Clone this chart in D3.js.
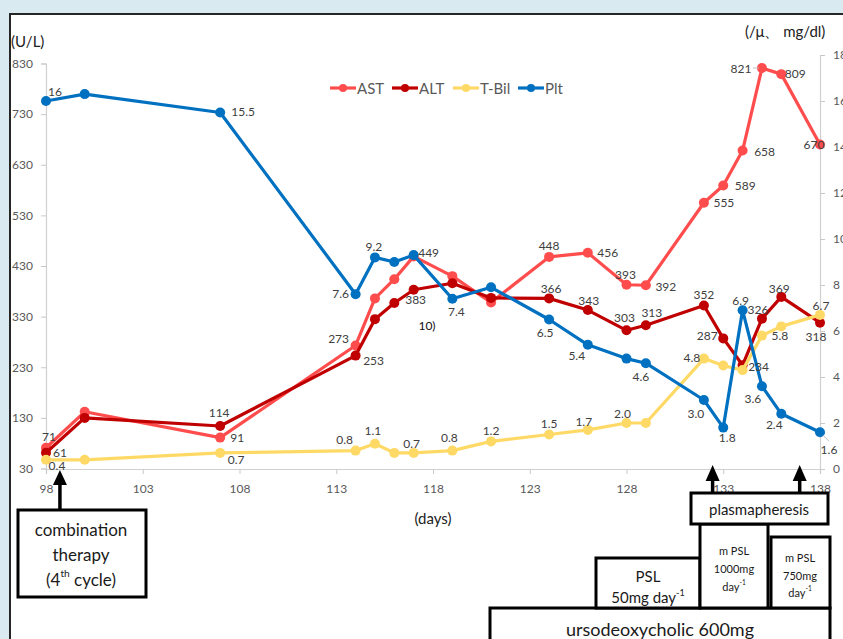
<!DOCTYPE html>
<html><head><meta charset="utf-8">
<script src="https://cdn.jsdelivr.net/npm/d3@7"></script>
<style>
html,body{margin:0;padding:0;background:#d9eaf1;}
svg{display:block;}
</style></head>
<body>
<svg id="c" width="843" height="639"></svg>
<script>
// ---------- data ----------
const days = [98,100,107,114,115,116,117,119,121,124,126,128,129,132,133,134,135,136,138];
const ast  = [71,142,91,273,366,404,449,410,358,448,456,393,392,555,589,658,821,809,670];
const alt  = [61,130,114,253,325,357,383,396,367,366,343,303,313,352,287,234,326,369,318];
const tbil = [0.4,0.4,0.7,0.8,1.1,0.7,0.7,0.8,1.2,1.5,1.7,2.0,2.0,4.8,4.5,4.3,5.8,6.2,6.7];
const plt  = [16,16.3,15.5,7.6,9.2,9.0,9.3,7.4,7.9,6.5,5.4,4.8,4.6,3.0,1.8,6.9,3.6,2.4,1.6];

const astLabels  = ["71",null,"91","273",null,null,"449",null,null,"448","456","393","392","555","589","658","821","809","670"];
const altLabels  = ["61",null,"114","253",null,null,"383",null,null,"366","343","303","313","352","287","234","326","369","318"];
const tbilLabels = ["0.4",null,"0.7","0.8","1.1",null,"0.7","0.8","1.2","1.5","1.7","2.0",null,"4.8",null,null,"5.8",null,"6.7"];
const pltLabels  = ["16",null,"15.5","7.6","9.2",null,null,"7.4",null,"6.5","5.4",null,"4.6","3.0","1.8","6.9","3.6","2.4","1.6"];

const seriesNames = ["AST","ALT","T-Bil","Plt"];
const leftTicks  = [30,130,230,330,430,530,630,730,830];
const rightTicks = [0,2,4,6,8,10,12,14,16,18];
const xTicks     = [98,103,108,113,118,123,128,133,138];

// ---------- label offsets (layout, px) ----------
const astOff  = [[3,-11],null,[17,0],[-17,-7],null,null,[15,-4],null,null,[0,-11],[20,0],[-1,-10],[20,1],[20,0],[22,0],[22,1],[-21,0],[14,-1],[-6,0]];
const altOff  = [[14,0],null,[-1,-13],[18,5],null,null,[2,10],null,null,[2,-10],[1,-10],[-2,-13],[6,-13],[0,-11],[-16,-3],[16,1],[-4,-9],[-2,-8],[-4,14]];
const tbilOff = [[11,6],null,[16,7],[-11,-11],[-2,-13],null,[-2,-9],[-3,-13],[0,-11],[0,-11],[-4,-8],[-4,-10],null,[-12,-1],null,null,[18,0],null,[1,-9]];
const pltOff  = [[9,-10],null,[23,-1],[-15,-1],[-1,-11],null,null,[4,13],null,[-4,13],[-11,11],null,[-5,13],[-8,13],[4,10],[-2,-10],[-9,12],[-7,11],[9,17]];

const colors = {"AST":"#ff4d4d","ALT":"#c00000","T-Bil":"#ffd966","Plt":"#0070c0"};
const FONT = "Lato, 'Open Sans', sans-serif";
const GRAY = "#595959";

const svg = d3.select("#c");
// panel
svg.append("rect").attr("x",0).attr("y",0).attr("width",843).attr("height",639).attr("fill","#d9eaf1");
svg.append("rect").attr("x",10).attr("y",14).attr("width",840).attr("height",640)
  .attr("fill","#fff").attr("stroke","#262626").attr("stroke-width",2);

const x  = d3.scaleLinear().domain([98,138]).range([46,820]);
const yL = d3.scaleLinear().domain([30,830]).range([468.5,63.5]);
const yR = d3.scaleLinear().domain([0,18]).range([469,55]);

function styleAxis(g){
  g.selectAll("path.domain").attr("stroke","#d0d0d0").attr("stroke-width",1.2);
  g.selectAll(".tick line").attr("stroke","#c8c8c8");
  g.selectAll(".tick text").attr("fill",GRAY).attr("font-family",FONT).attr("font-size",12);
}
svg.append("g").attr("transform","translate(46,0)")
  .call(d3.axisLeft(yL).tickValues(leftTicks).tickSize(5).tickPadding(8)).call(styleAxis);
svg.append("g").attr("transform","translate(820,0)")
  .call(d3.axisRight(yR).tickValues(rightTicks).tickSize(5).tickPadding(8)).call(styleAxis);
svg.append("g").attr("transform","translate(0,469)")
  .call(d3.axisBottom(x).tickValues(xTicks).tickSize(5).tickPadding(10)).call(styleAxis);

// axis titles
svg.append("text").attr("x",11).attr("y",47).text("(U/L)")
  .attr("font-family",FONT).attr("font-size",15).attr("fill","#222");
svg.append("text").attr("x",745).attr("y",37).text("(/μ、 mg/dl)")
  .attr("font-family",FONT).attr("font-size",15).attr("fill","#222");
svg.append("text").attr("x",433).attr("y",524).attr("text-anchor","middle").text("(days)")
  .attr("font-family",FONT).attr("font-size",15).attr("fill","#222");
svg.append("text").attr("x",427).attr("y",330).attr("text-anchor","middle").text("10)")
  .attr("font-family",FONT).attr("font-size",12).attr("fill","#111");

// series
const series = [
  {name:"AST", vals:ast, y:yL, labels:astLabels, off:astOff},
  {name:"ALT", vals:alt, y:yL, labels:altLabels, off:altOff},
  {name:"T-Bil", vals:tbil, y:yR, labels:tbilLabels, off:tbilOff},
  {name:"Plt", vals:plt, y:yR, labels:pltLabels, off:pltOff}
];
series.forEach(s=>{
  const pts = days.map((d,i)=>({d, v:s.vals[i], i}));
  const line = d3.line().x(p=>x(p.d)).y(p=>s.y(p.v));
  const g = svg.append("g");
  g.append("path").datum(pts).attr("d",line).attr("fill","none")
    .attr("stroke",colors[s.name]).attr("stroke-width",3.2).attr("stroke-linejoin","round");
  g.selectAll("circle").data(pts).join("circle")
    .attr("cx",p=>x(p.d)).attr("cy",p=>s.y(p.v)).attr("r",5).attr("fill",colors[s.name]);
});
// leader lines (AST 821, Plt 1.6)
svg.append("line").attr("x1",x(days[16])-9).attr("x2",x(days[16])-3)
  .attr("y1",yL(ast[16])).attr("y2",yL(ast[16])).attr("stroke","#bfbfbf").attr("stroke-width",1);
svg.append("line").attr("x1",x(days[18])+3).attr("x2",x(days[18])+9)
  .attr("y1",yR(plt[18])+3).attr("y2",yR(plt[18])+9).attr("stroke","#bfbfbf").attr("stroke-width",1);

// labels on top
series.forEach(s=>{
  const pts = days.map((d,i)=>({d, v:s.vals[i], i})).filter(p=>s.labels[p.i]!==null);
  svg.append("g").selectAll("text").data(pts).join("text")
    .attr("x",p=>x(p.d)+s.off[p.i][0]).attr("y",p=>s.y(p.v)+s.off[p.i][1])
    .attr("text-anchor","middle").attr("dominant-baseline","central")
    .attr("font-family",FONT).attr("font-size",12).attr("fill","#404040")
    .text(p=>s.labels[p.i]);
});

// legend
const legX = [330,392,453,518];
const lg = svg.append("g");
seriesNames.forEach((n,i)=>{
  const g = lg.append("g").attr("transform",`translate(${legX[i]},88)`);
  g.append("line").attr("x1",0).attr("x2",26).attr("y1",0).attr("y2",0)
    .attr("stroke",colors[n]).attr("stroke-width",3.2);
  g.append("circle").attr("cx",13).attr("cy",0).attr("r",4).attr("fill",colors[n]);
  g.append("text").attr("x",27).attr("y",0).attr("dominant-baseline","central")
    .attr("font-family",FONT).attr("font-size",15).attr("fill",GRAY).text(n);
});

// annotations
function arrow(cx, tip, base, bottom){
  svg.append("line").attr("x1",cx).attr("x2",cx).attr("y1",base-1).attr("y2",bottom)
    .attr("stroke","#000").attr("stroke-width",3.5);
  svg.append("path").attr("d",`M${cx},${tip}L${cx-7},${base}L${cx+7},${base}Z`).attr("fill","#000");
}
arrow(x(98.72),470,485,510);
arrow(x(132.45),465,481,494);
arrow(x(136.95),465,481,494);

function box(x0,y0,w,h){
  svg.append("rect").attr("x",x0).attr("y",y0).attr("width",w).attr("height",h)
    .attr("fill","#fff").attr("stroke","#000").attr("stroke-width",3);
}
function txt(cx,cy,size,parts){
  const t = svg.append("text").attr("x",cx).attr("y",cy).attr("text-anchor","middle")
    .attr("dominant-baseline","central").attr("font-family",FONT).attr("font-size",size).attr("fill","#1a1a1a");
  parts.forEach(p=>{
    if(typeof p==="string") t.append("tspan").text(p);
    else t.append("tspan").attr("font-size",size*0.6).attr("dy",-size*0.35).text(p.sup);
  });
  return t;
}
box(18,510,128,87);
txt(81,529,17,["combination"]);
txt(81,554,17,["therapy"]);
txt(81,579,17,["(4",{sup:"th"}]).append("tspan").attr("dy",17*0.35).text("  cycle)");

box(490,608,340,40);
txt(660,629,18,["ursodeoxycholic 600mg"]);

box(596,558,104,50);
txt(648,576,15,["PSL"]);
txt(648,597,15,["50mg day",{sup:"-1"}]);

box(700,524,68,84);
txt(734,550,11,["m PSL"]);
txt(734,568,11,["1000mg"]);
txt(734,586,11,["day",{sup:"-1"}]);

box(771,537,59,71);
txt(800,557,11,["m PSL"]);
txt(800,575,11,["750mg"]);
txt(800,592,11,["day",{sup:"-1"}]);

box(691,493,137,31);
txt(759,509,15,["plasmapheresis"]);
</script>
</body></html>
